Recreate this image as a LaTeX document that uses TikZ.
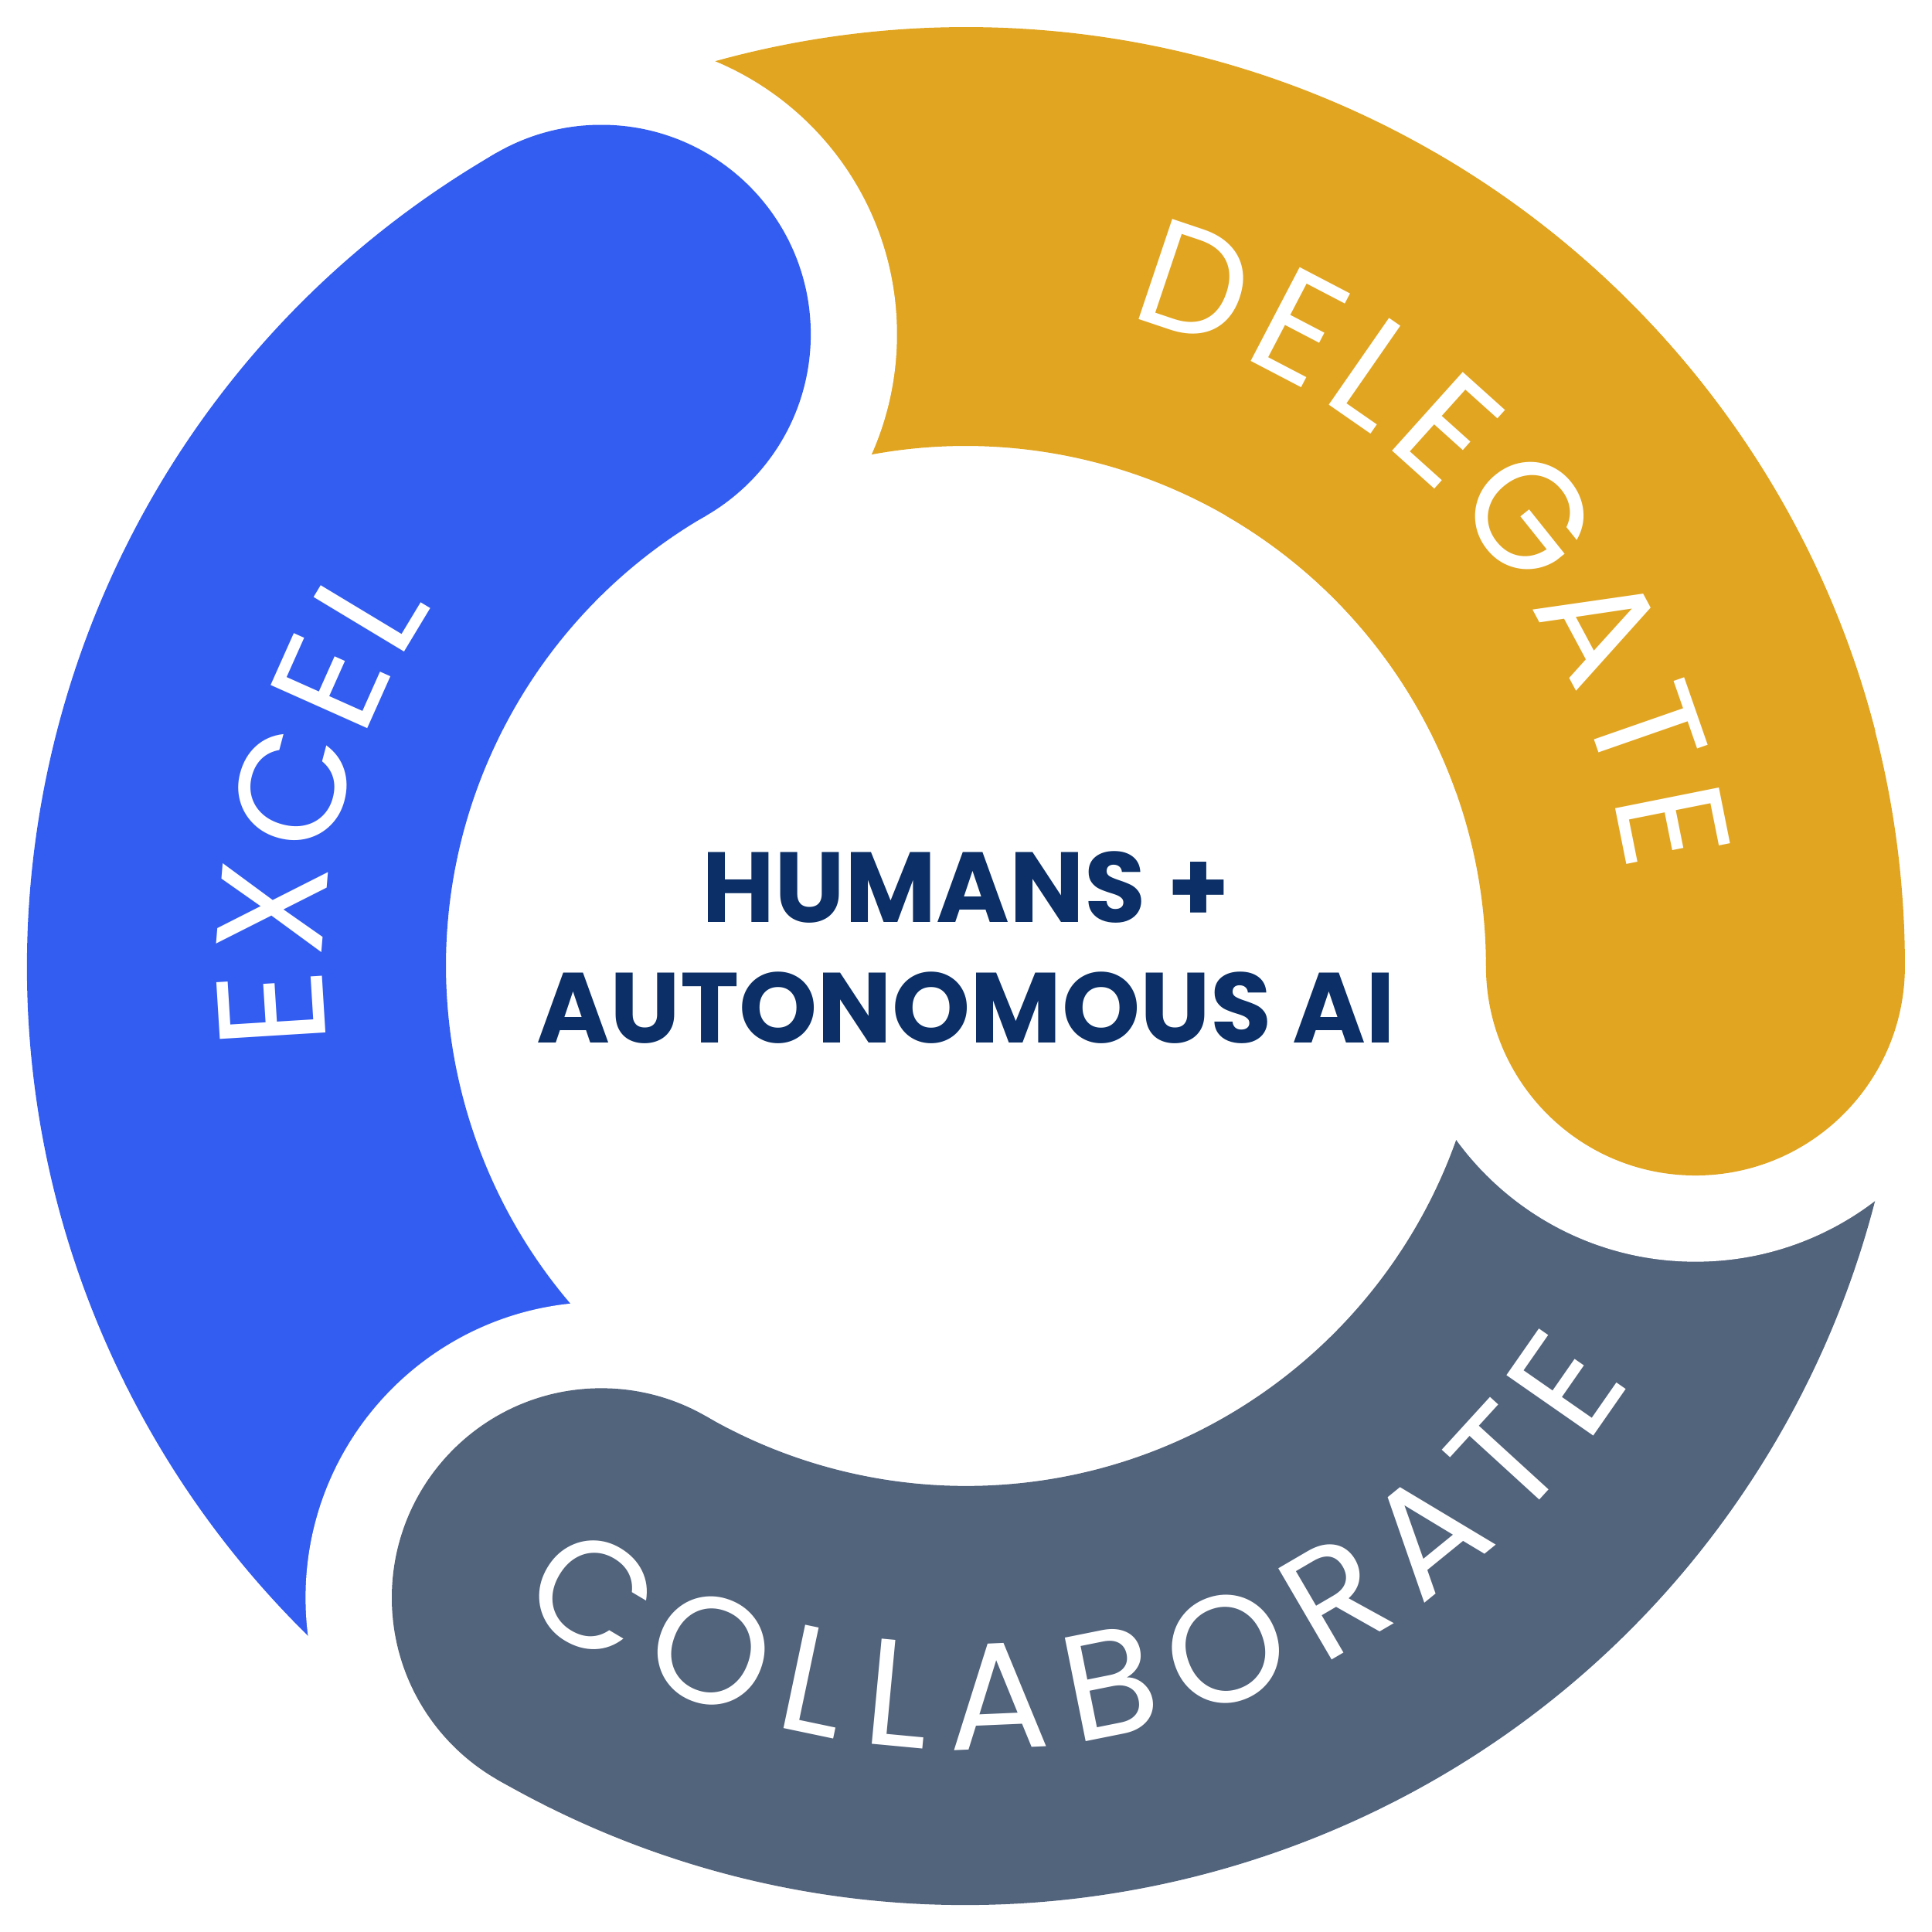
\documentclass[tikz,border=0pt]{standalone}
\usepackage{fontspec}
\setmainfont{Poppins}
\usetikzlibrary{decorations.text}
\definecolor{cblue}{HTML}{335DF0}
\definecolor{cgold}{HTML}{E1A521}
\definecolor{cgray}{HTML}{52637C}
\definecolor{cnavy}{HTML}{0B2F66}
\tikzset{
 ringtext/.style={decorate,decoration={text along path,text align={fit to path},
   text={#1},text color=white}}
}
\newcommand{\sect}[3]{\fill[#1] (#2:7.62) arc[start angle=#2,end angle=#3,radius=7.62] -- (#3:4.22) arc[start angle=#3,end angle=#2,radius=4.22] -- cycle;}
\begin{document}
\begin{tikzpicture}
\useasboundingbox (-7.84,-7.84) rectangle (7.84,7.84);
% gold
\sect{cgold}{0}{120}
\fill[cgold] (0:5.92) circle (1.70);
\fill[white] (120:5.92) circle (2.40);
% blue
\sect{cblue}{120}{240}
\fill[cblue] (120:5.92) circle (1.70);
\fill[white] (240:5.92) circle (2.40);
% gray
\sect{cgray}{240}{360}
\fill[cgray] (240:5.92) circle (1.70);
\fill[white] (0:5.92) circle (2.40);
% redraw gold start
\sect{cgold}{0}{60}
\fill[cgold] (0:5.92) circle (1.70);
% labels
\path[ringtext={|\fontsize{35}{35}\selectfont|DELEGATE}] (76:5.42) arc[start angle=76,end angle=8,radius=5.42];
\path[ringtext={|\fontsize{35}{35}\selectfont|EXCEL}] (187:5.22) arc[start angle=187,end angle=146,radius=5.22];
\path[ringtext={|\fontsize{35}{35}\selectfont|COLLABORATE}] (235:6.36) arc[start angle=235,end angle=328,radius=6.36];
\node[text=cnavy,font=\fontsize{23}{23}\bfseries\selectfont] (t1) at (0,0.64) {HUMANS +};
\node[text=cnavy,font=\fontsize{23}{23}\bfseries\selectfont] (t2) at (0,-0.34) {AUTONOMOUS AI};
\end{tikzpicture}
\end{document}
